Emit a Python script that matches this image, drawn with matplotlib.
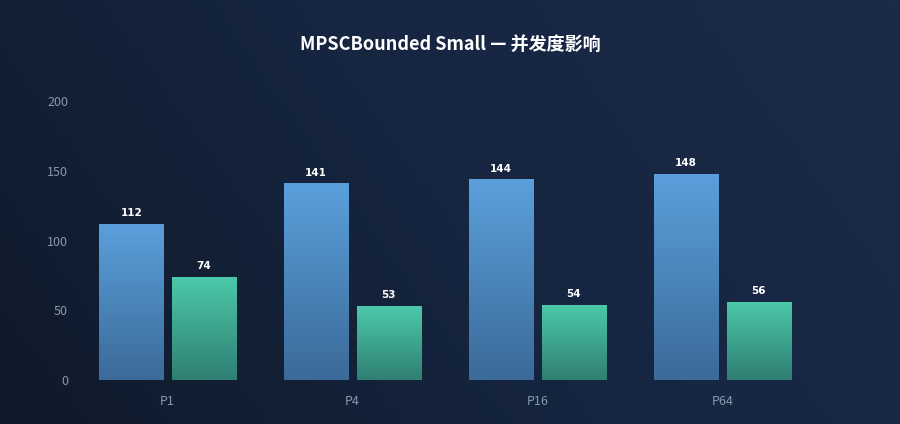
import numpy as np
import matplotlib
matplotlib.use("Agg")
import matplotlib.pyplot as plt
from matplotlib.colors import LinearSegmentedColormap

plt.rcParams['font.family'] = ['Noto Sans CJK SC', 'DejaVu Sans']

categories = ["P1", "P4", "P16", "P64"]
series_a = [112, 141, 144, 148]
series_b = [74, 53, 54, 56]
yticks = [0, 50, 100, 150, 200]
title = "MPSCBounded Small — 并发度影响"

W, H = 900, 424
fig = plt.figure(figsize=(W / 100, H / 100), dpi=100)

# background gradient
bg = fig.add_axes([0, 0, 1, 1])
bg.set_axis_off()
xx, yy = np.meshgrid(np.linspace(0, 1, 200), np.linspace(0, 1, 100))
t = 0.75 * xx + 0.25 * yy
bg_cmap = LinearSegmentedColormap.from_list("bg", ["#0f1a2a", "#162540", "#1b2b4a"])
bg.imshow(t, cmap=bg_cmap, aspect="auto", extent=[0, 1, 0, 1], origin="lower")
bg.set_xlim(0, 1); bg.set_ylim(0, 1)

left_px, right_px = 75, 815
bot_px, top_px = 380, 101
ax = fig.add_axes([left_px / W, 1 - bot_px / H, (right_px - left_px) / W, (bot_px - top_px) / H])
ax.set_facecolor("none")
for s in ax.spines.values():
    s.set_visible(False)

x = np.arange(len(categories))
bw = 0.346
off = 0.196
ax.set_xlim(-0.5, len(categories) - 0.5)
ax.set_ylim(0, 200)

blue_cmap = LinearSegmentedColormap.from_list("b", ["#3c6a99", "#5aa0dc"])
green_cmap = LinearSegmentedColormap.from_list("g", ["#2f7f72", "#4cc9aa"])

grad = np.linspace(0, 1, 256).reshape(-1, 1)
for vals, dx, cmap in [(series_a, -off, blue_cmap), (series_b, off, green_cmap)]:
    bars = ax.bar(x + dx, vals, width=bw, facecolor="none", edgecolor="none")
    for b, v in zip(bars, vals):
        x0 = b.get_x()
        x1 = x0 + b.get_width()
        im = ax.imshow(grad, cmap=cmap, aspect="auto", extent=[x0, x1, 0, v],
                       origin="lower", zorder=2)
        im.set_clip_path(b)
        ax.text(b.get_x() + b.get_width() / 2, v + 4, f"{v}", ha="center", va="bottom",
                color="white", fontsize=7.5, fontweight="bold", zorder=3,
                family=["DejaVu Sans"])

ax.set_xticks(x)
ax.set_xticklabels(categories)
ax.set_yticks(yticks)
ax.tick_params(axis="both", length=0, colors="#8a98ad", labelsize=9)
ax.tick_params(axis="x", pad=11)
ax.tick_params(axis="y", pad=5)

fig.text(450 / W, 1 - 44 / H, title, ha="center", va="center", color="white",
         fontsize=13, fontweight="bold")

fig.savefig("out.png", dpi=100)
